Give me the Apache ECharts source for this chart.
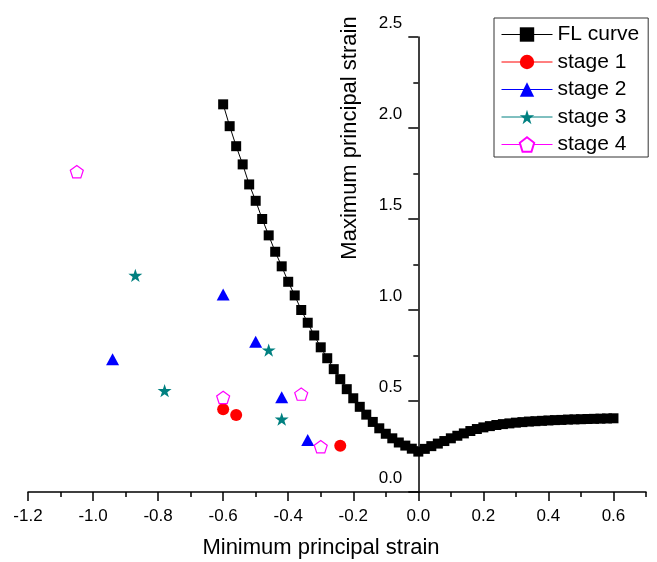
<!DOCTYPE html>
<html>
<head>
<meta charset="utf-8">
<script src="https://cdn.jsdelivr.net/npm/echarts@6/dist/echarts.min.js"></script>
<style>
html,body{margin:0;padding:0;background:#fff;}
#chart{width:657px;height:562px;}
</style>
</head>
<body>
<div id="chart"></div>
<script>
// ---- data ----
const flX = [-0.60,-0.58,-0.56,-0.54,-0.52,-0.50,-0.48,-0.46,-0.44,-0.42,-0.40,-0.38,-0.36,-0.34,-0.32,-0.30,-0.28,-0.26,-0.24,-0.22,-0.20,-0.18,-0.16,-0.14,-0.12,-0.10,-0.08,-0.06,-0.04,-0.02,0.00,
  0.02,0.04,0.06,0.08,0.10,0.12,0.14,0.16,0.18,0.20,0.22,0.24,0.26,0.28,0.30,0.32,0.34,0.36,0.38,0.40,0.42,0.44,0.46,0.48,0.50,0.52,0.54,0.56,0.58,0.60];
const flY = [2.13,2.01,1.90,1.80,1.69,1.60,1.50,1.41,1.32,1.24,1.155,1.08,1.00,0.93,0.86,0.795,0.735,0.675,0.62,0.565,0.515,0.468,0.425,0.385,0.35,0.32,0.295,0.272,0.255,0.238,0.222,
  0.237,0.252,0.266,0.28,0.295,0.309,0.322,0.335,0.346,0.355,0.362,0.368,0.373,0.377,0.381,0.384,0.387,0.389,0.391,0.393,0.395,0.396,0.398,0.399,0.400,0.401,0.402,0.403,0.404,0.405];
const stage1X = [-0.60,-0.56,-0.24];
const stage1Y = [0.455,0.423,0.254];
const stage2X = [-0.60,-0.94,-0.50,-0.42,-0.34];
const stage2Y = [1.085,0.73,0.826,0.52,0.286];
const stage3X = [-0.87,-0.78,-0.46,-0.42];
const stage3Y = [1.19,0.557,0.78,0.40];
const stage4X = [-1.05,-0.60,-0.36,-0.30];
const stage4Y = [1.76,0.52,0.538,0.249];
const seriesNames = ['FL curve','stage 1','stage 2','stage 3','stage 4'];
const xTicks = [-1.2,-1.0,-0.8,-0.6,-0.4,-0.2,0.0,0.2,0.4,0.6];
const yTicks = [0.0,0.5,1.0,1.5,2.0,2.5];
const xTitle = 'Minimum principal strain';
const yTitle = 'Maximum principal strain';

const pairs = (xs, ys) => xs.map((x, i) => [x, ys[i]]);
const FONT = "'Liberation Sans', Arial, Helvetica, sans-serif";
const STAR = 'path://M50,0 L61.2,34.5 L97.6,34.5 L68.2,55.9 L79.4,90.5 L50,69.1 L20.6,90.5 L31.8,55.9 L2.4,34.5 L38.8,34.5 Z';
const PENTA = 'path://M50,0 L97.6,34.5 L79.4,90.5 L20.6,90.5 L2.4,34.5 Z';
const colors = ['#000000','#FF0000','#0000FF','#008080','#FF00FF'];

const GRID_L = 28, GRID_R = 11, W = 657;
const X_MIN = -1.2, X_MAX = 0.7;
// shift of the y axis so it sits at x = 0
const yAxisOffset = -((0 - X_MIN) / (X_MAX - X_MIN)) * (W - GRID_L - GRID_R);

const hiddenLine = {width: 0, opacity: 0};

const option = {
  animation: false,
  backgroundColor: '#ffffff',
  textStyle: {fontFamily: FONT},
  grid: {left: GRID_L, right: GRID_R, top: 37, bottom: 70, containLabel: false, outerBoundsMode: 'none'},
  legend: {
    orient: 'vertical',
    left: 494, top: 18,
    padding: [6, 9, 2, 7],
    itemWidth: 51, itemHeight: 18, itemGap: 6.5,
    borderColor: '#333', borderWidth: 1,
    textStyle: {fontFamily: FONT, fontSize: 21, lineHeight: 21, color: '#000'},
    data: seriesNames.map((n, i) => ({
      name: n,
      lineStyle: {color: colors[i], width: 1, opacity: 1, type: 'solid'}
    }))
  },
  xAxis: [{
    type: 'value', min: X_MIN, max: X_MAX, interval: 0.1,
    position: 'bottom',
    axisLine: {show: true, onZero: false, lineStyle: {color: '#000', width: 1.5}},
    axisTick: {show: true, length: 5, inside: false, lineStyle: {color: '#000', width: 1.5}},
    axisLabel: {show: false},
    splitLine: {show: false}
  }, {
    type: 'value', min: X_MIN, max: X_MAX, interval: 0.2,
    position: 'bottom', offset: 0,
    axisLine: {show: false, onZero: false},
    axisTick: {show: true, length: 9, customValues: xTicks, lineStyle: {color: '#000', width: 1.5}},
    axisLabel: {show: true, customValues: xTicks, margin: 16, fontFamily: FONT, fontSize: 17, color: '#000',
      formatter: v => v.toFixed(1)},
    splitLine: {show: false}
  }],
  yAxis: {
    type: 'value', min: 0, max: 2.5, interval: 0.5,
    position: 'left', offset: yAxisOffset,
    axisLine: {show: true, onZero: false, lineStyle: {color: '#000', width: 1.5}},
    axisTick: {show: true, length: 10, customValues: yTicks, lineStyle: {color: '#000', width: 1.5}},
    minorTick: {show: true, splitNumber: 2, length: 5, lineStyle: {color: '#000', width: 1.5}},
    axisLabel: {show: true, customValues: yTicks, margin: 16, fontFamily: FONT, fontSize: 17, color: '#000',
      verticalAlign: 'bottom', lineHeight: 28,
      formatter: v => v.toFixed(1)},
    splitLine: {show: false}
  },
  graphic: [{
    type: 'text', x: 350, y: 138, rotation: Math.PI / 2,
    style: {text: yTitle, fontFamily: FONT, fontSize: 22, fill: '#000', align: 'center', verticalAlign: 'middle'}
  }, {
    type: 'text', x: 321, y: 548,
    style: {text: xTitle, fontFamily: FONT, fontSize: 22, fill: '#000', align: 'center', verticalAlign: 'middle'}
  }],
  series: [
    {name: seriesNames[0], type: 'line', xAxisIndex: 0, data: pairs(flX, flY),
      symbol: 'rect', symbolSize: 10, showAllSymbol: true,
      lineStyle: {color: '#000', width: 1}, itemStyle: {color: '#000'}, z: 3},
    {name: seriesNames[1], type: 'line', xAxisIndex: 0, data: pairs(stage1X, stage1Y),
      symbol: 'circle', symbolSize: 12, showAllSymbol: true,
      lineStyle: hiddenLine, itemStyle: {color: colors[1]}, z: 4},
    {name: seriesNames[2], type: 'line', xAxisIndex: 0, data: pairs(stage2X, stage2Y),
      symbol: 'triangle', symbolSize: [13, 12], showAllSymbol: true,
      lineStyle: hiddenLine, itemStyle: {color: colors[2]}, z: 4},
    {name: seriesNames[3], type: 'line', xAxisIndex: 0, data: pairs(stage3X, stage3Y),
      symbol: STAR, symbolSize: 14, symbolKeepAspect: true, showAllSymbol: true,
      lineStyle: hiddenLine, itemStyle: {color: colors[3]}, z: 4},
    {name: seriesNames[4], type: 'line', xAxisIndex: 0, data: pairs(stage4X, stage4Y),
      symbol: PENTA, symbolSize: 13, symbolKeepAspect: true, showAllSymbol: true,
      lineStyle: hiddenLine, itemStyle: {color: '#ffffff', borderColor: colors[4], borderWidth: 1.2}, z: 4}
  ]
};

const chart = echarts.init(document.getElementById('chart'), null, {renderer: 'canvas'});
chart.setOption(option);
</script>
</body>
</html>
